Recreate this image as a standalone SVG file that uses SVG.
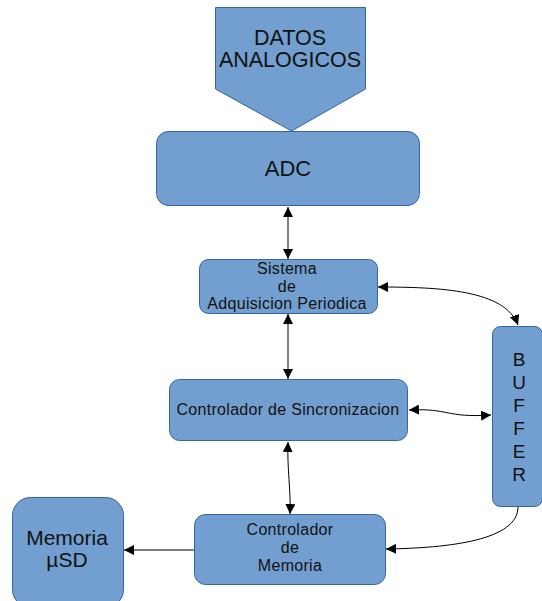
<svg xmlns="http://www.w3.org/2000/svg" width="542" height="601" viewBox="0 0 542 601">
<style>
.box{fill:#729fcf;stroke:#3465a4;stroke-width:1}
.t{font-family:"Liberation Sans",Arial,sans-serif;fill:#111;text-anchor:middle}
.s{font-size:16px;letter-spacing:0.3px}
.b{font-size:19px}
.c{fill:none;stroke:#000;stroke-width:1}
</style>
<defs>
<marker id="ah" viewBox="0 0 10 10" refX="10" refY="5" markerWidth="10" markerHeight="10" markerUnits="userSpaceOnUse" orient="auto-start-reverse">
<path d="M0,0 L10,5 L0,10 z" fill="#000"/>
</marker>
</defs>
<g id="datos">
<path class="box" d="M215.5,7.5 H365.5 V89 L291.5,131 L215.5,89 Z"/>
<text class="t" x="290" y="45" font-size="21.5">DATOS</text>
<text class="t" x="290" y="67" font-size="21.5">ANALOGICOS</text>
</g>
<g id="adc">
<rect class="box" x="156.5" y="131.5" width="263" height="74" rx="12"/>
<text class="t" x="288" y="176" font-size="22">ADC</text>
</g>
<g id="sistema">
<rect class="box" x="199.5" y="259.5" width="178" height="54" rx="9"/>
<text class="t s" x="287" y="274">Sistema</text>
<text class="t s" x="287" y="292">de</text>
<text class="t s" x="287" y="309">Adquisicion Periodica</text>
</g>
<g id="sincronizacion">
<rect class="box" x="169.5" y="379.5" width="238" height="61" rx="10"/>
<text class="t s" x="288" y="415">Controlador de Sincronizacion</text>
</g>
<g id="buffer">
<rect class="box" x="492.5" y="326.5" width="50" height="180" rx="8"/>
<text class="t b" x="519" y="365.5">B</text>
<text class="t b" x="519" y="388.5">U</text>
<text class="t b" x="519" y="411.5">F</text>
<text class="t b" x="519" y="434.5">F</text>
<text class="t b" x="519" y="457.5">E</text>
<text class="t b" x="519" y="480.5">R</text>
</g>
<g id="controlador-memoria">
<rect class="box" x="194.5" y="514.5" width="191" height="70" rx="11"/>
<text class="t s" x="290" y="535">Controlador</text>
<text class="t s" x="290" y="553">de</text>
<text class="t s" x="290" y="571">Memoria</text>
</g>
<g id="memoria-usd">
<rect class="box" x="12.5" y="497.5" width="111" height="110" rx="18"/>
<text class="t" x="67" y="545" font-size="21">Memoria</text>
<text class="t" x="67" y="567" font-size="21">µSD</text>
</g>
<g id="connectors">
<path class="c" d="M288,207 V259" marker-start="url(#ah)" marker-end="url(#ah)"/>
<path class="c" d="M288,314 V379" marker-start="url(#ah)" marker-end="url(#ah)"/>
<path class="c" d="M378,287 C440,287 505,290 518,325" marker-start="url(#ah)" marker-end="url(#ah)"/>
<path class="c" d="M409,410 C450,408 445,418 491,415" marker-start="url(#ah)" marker-end="url(#ah)"/>
<path class="c" d="M288,442 C287,470 291,490 290,514" marker-start="url(#ah)" marker-end="url(#ah)"/>
<path class="c" d="M518,507 C518,540 450,548 386,549" marker-end="url(#ah)"/>
<path class="c" d="M194,550 H124" marker-end="url(#ah)"/>
</g>
</svg>
